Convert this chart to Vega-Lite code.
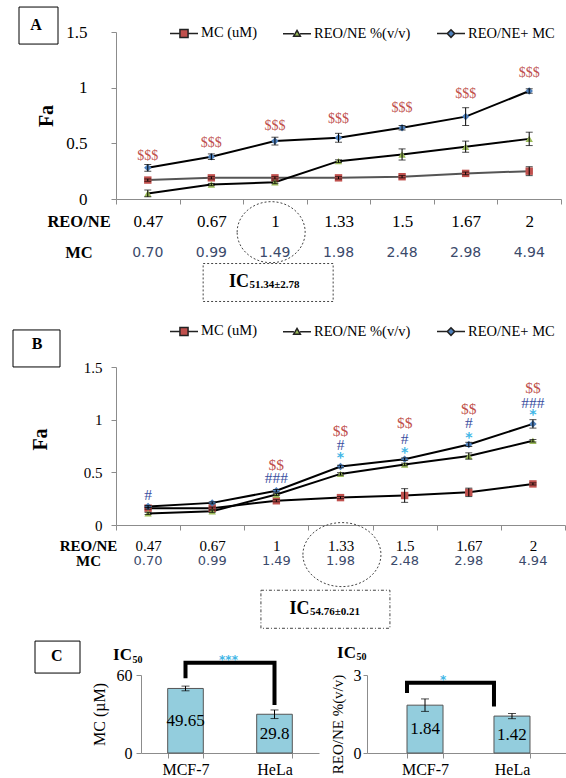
{
  "$schema": "https://vega.github.io/schema/vega-lite/v6.json",
  "background": "white",
  "padding": {"left": 11, "top": 5, "right": 0, "bottom": 0},
  "config": {
    "view": {"stroke": null},
    "font": "Liberation Serif",
    "axis": {"grid": false, "domainColor": "#8c8c8c", "tickColor": "#8c8c8c", "labelColor": "black", "labelFont": "Liberation Serif", "titleFont": "Liberation Serif", "titleColor": "black"}
  },
  "datasets": {
    "doses": [
      {"dose": "0.47", "mc": "0.70"}, {"dose": "0.67", "mc": "0.99"}, {"dose": "1", "mc": "1.49"},
      {"dose": "1.33", "mc": "1.98"}, {"dose": "1.5", "mc": "2.48"}, {"dose": "1.67", "mc": "2.98"}, {"dose": "2", "mc": "4.94"}
    ],
    "faA": [
      {"s": "MC (uM)", "d": "0.47", "fa": 0.17, "e": 0.01},
      {"s": "MC (uM)", "d": "0.67", "fa": 0.19, "e": 0.01},
      {"s": "MC (uM)", "d": "1", "fa": 0.19, "e": 0.01},
      {"s": "MC (uM)", "d": "1.33", "fa": 0.19, "e": 0.01},
      {"s": "MC (uM)", "d": "1.5", "fa": 0.2, "e": 0.01},
      {"s": "MC (uM)", "d": "1.67", "fa": 0.23, "e": 0.012},
      {"s": "MC (uM)", "d": "2", "fa": 0.25, "e": 0.04},
      {"s": "REO/NE %(v/v)", "d": "0.47", "fa": 0.05, "e": 0.03},
      {"s": "REO/NE %(v/v)", "d": "0.67", "fa": 0.13, "e": 0.01},
      {"s": "REO/NE %(v/v)", "d": "1", "fa": 0.15, "e": 0.012},
      {"s": "REO/NE %(v/v)", "d": "1.33", "fa": 0.34, "e": 0.012},
      {"s": "REO/NE %(v/v)", "d": "1.5", "fa": 0.4, "e": 0.05},
      {"s": "REO/NE %(v/v)", "d": "1.67", "fa": 0.47, "e": 0.05},
      {"s": "REO/NE %(v/v)", "d": "2", "fa": 0.54, "e": 0.06},
      {"s": "REO/NE+ MC", "d": "0.47", "fa": 0.28, "e": 0.03},
      {"s": "REO/NE+ MC", "d": "0.67", "fa": 0.38, "e": 0.025},
      {"s": "REO/NE+ MC", "d": "1", "fa": 0.52, "e": 0.035},
      {"s": "REO/NE+ MC", "d": "1.33", "fa": 0.55, "e": 0.04},
      {"s": "REO/NE+ MC", "d": "1.5", "fa": 0.64, "e": 0.02},
      {"s": "REO/NE+ MC", "d": "1.67", "fa": 0.74, "e": 0.08},
      {"s": "REO/NE+ MC", "d": "2", "fa": 0.97, "e": 0.02}
    ],
    "faB": [
      {"s": "MC (uM)", "d": "0.47", "fa": 0.16, "e": 0.01},
      {"s": "MC (uM)", "d": "0.67", "fa": 0.16, "e": 0.01},
      {"s": "MC (uM)", "d": "1", "fa": 0.23, "e": 0.01},
      {"s": "MC (uM)", "d": "1.33", "fa": 0.26, "e": 0.01},
      {"s": "MC (uM)", "d": "1.5", "fa": 0.28, "e": 0.065},
      {"s": "MC (uM)", "d": "1.67", "fa": 0.31, "e": 0.04},
      {"s": "MC (uM)", "d": "2", "fa": 0.39, "e": 0.01},
      {"s": "REO/NE %(v/v)", "d": "0.47", "fa": 0.11, "e": 0.01},
      {"s": "REO/NE %(v/v)", "d": "0.67", "fa": 0.13, "e": 0.01},
      {"s": "REO/NE %(v/v)", "d": "1", "fa": 0.29, "e": 0.01},
      {"s": "REO/NE %(v/v)", "d": "1.33", "fa": 0.485, "e": 0.012},
      {"s": "REO/NE %(v/v)", "d": "1.5", "fa": 0.575, "e": 0.012},
      {"s": "REO/NE %(v/v)", "d": "1.67", "fa": 0.655, "e": 0.03},
      {"s": "REO/NE %(v/v)", "d": "2", "fa": 0.8, "e": 0.012},
      {"s": "REO/NE+ MC", "d": "0.47", "fa": 0.175, "e": 0.01},
      {"s": "REO/NE+ MC", "d": "0.67", "fa": 0.21, "e": 0.01},
      {"s": "REO/NE+ MC", "d": "1", "fa": 0.325, "e": 0.012},
      {"s": "REO/NE+ MC", "d": "1.33", "fa": 0.555, "e": 0.012},
      {"s": "REO/NE+ MC", "d": "1.5", "fa": 0.625, "e": 0.012},
      {"s": "REO/NE+ MC", "d": "1.67", "fa": 0.765, "e": 0.02},
      {"s": "REO/NE+ MC", "d": "2", "fa": 0.96, "e": 0.04}
    ],
    "sigA": [
      {"d": "0.47", "t": "$$$", "k": "$", "y": 0.39},
      {"d": "0.67", "t": "$$$", "k": "$", "y": 0.5},
      {"d": "1", "t": "$$$", "k": "$", "y": 0.66},
      {"d": "1.33", "t": "$$$", "k": "$", "y": 0.72},
      {"d": "1.5", "t": "$$$", "k": "$", "y": 0.82},
      {"d": "1.67", "t": "$$$", "k": "$", "y": 0.94},
      {"d": "2", "t": "$$$", "k": "$", "y": 1.13}
    ],
    "sigB": [
      {"d": "0.47", "t": "#", "k": "#", "y": 0.285},
      {"d": "1", "t": "$$", "k": "$", "y": 0.565},
      {"d": "1", "t": "###", "k": "#", "y": 0.447},
      {"d": "1.33", "t": "$$", "k": "$", "y": 0.888},
      {"d": "1.33", "t": "#", "k": "#", "y": 0.76},
      {"d": "1.33", "t": "*", "k": "*", "y": 0.666},
      {"d": "1.5", "t": "$$", "k": "$", "y": 0.97},
      {"d": "1.5", "t": "#", "k": "#", "y": 0.815},
      {"d": "1.5", "t": "*", "k": "*", "y": 0.715},
      {"d": "1.67", "t": "$$", "k": "$", "y": 1.1},
      {"d": "1.67", "t": "#", "k": "#", "y": 0.965},
      {"d": "1.67", "t": "*", "k": "*", "y": 0.858},
      {"d": "2", "t": "$$", "k": "$", "y": 1.3},
      {"d": "2", "t": "###", "k": "#", "y": 1.16},
      {"d": "2", "t": "*", "k": "*", "y": 1.07}
    ],
    "icMC": [
      {"cell": "MCF-7", "v": 49.65, "e": 1.8, "lab": "49.65"},
      {"cell": "HeLa", "v": 29.8, "e": 3.3, "lab": "29.8"}
    ],
    "icREO": [
      {"cell": "MCF-7", "v": 1.84, "e": 0.24, "lab": "1.84"},
      {"cell": "HeLa", "v": 1.42, "e": 0.1, "lab": "1.42"}
    ],
    "brMC": [
      {"cell": "MCF-7", "y": 57.5, "o": 1},
      {"cell": "MCF-7", "y": 69.4, "o": 2},
      {"cell": "HeLa", "y": 69.4, "o": 3},
      {"cell": "HeLa", "y": 37, "o": 4}
    ],
    "brREO": [
      {"cell": "MCF-7", "y": 2.31, "o": 1},
      {"cell": "MCF-7", "y": 2.7, "o": 2},
      {"cell": "HeLa", "y": 2.7, "o": 3},
      {"cell": "HeLa", "y": 1.79, "o": 4}
    ]
  },
  "resolve": {"scale": {"color": "independent", "fill": "independent", "shape": "independent"}},
  "spacing": 12,
  "vconcat": [
    {
      "width": 445,
      "height": 167,
      "layer": [
        {
          "data": {"name": "faA"},
          "mark": {"type": "line", "strokeWidth": 2},
          "encoding": {
            "x": {"field": "d", "type": "nominal", "scale": {"domain": ["0.47", "0.67", "1", "1.33", "1.5", "1.67", "2"], "paddingInner": 0, "paddingOuter": 0},
                  "axis": {"title": null, "tickBand": "extent", "labelAngle": 0, "labelFontSize": 17, "labelPadding": 9, "tickSize": 5}},
            "y": {"field": "fa", "type": "quantitative", "title": "Fa", "scale": {"domain": [0, 1.5], "nice": false, "zero": false},
                  "axis": {"values": [0, 0.5, 1, 1.5], "format": "~g", "titleFontSize": 20, "titleFontWeight": "bold", "titlePadding": 9, "labelFontSize": 17, "labelPadding": 24, "tickSize": 5}},
            "detail": {"field": "s"},
            "color": {"condition": {"test": "datum.s === 'MC (uM)'", "value": "#555555"}, "value": "black"},
            "strokeWidth": {"condition": {"test": "datum.s === 'MC (uM)'", "value": 1.2}, "value": 2}
          }
        },
        {
          "data": {"name": "faA"},
          "mark": {"type": "point", "filled": true, "opacity": 1, "size": 0},
          "encoding": {
            "x": {"field": "d", "type": "nominal"},
            "y": {"field": "fa", "type": "quantitative", "title": "Fa"},
            "color": {"field": "s", "type": "nominal",
              "scale": {"domain": ["MC (uM)", "REO/NE %(v/v)", "REO/NE+ MC"], "range": ["#c0504d", "#9bbb59", "#4f81bd"]},
              "legend": {"orient": "none", "legendX": 53, "legendY": -14, "direction": "horizontal", "title": null,
                "labelFont": "Liberation Serif", "labelFontSize": 14.5, "labelColor": "black", "symbolSize": 784,
                "columnPadding": 23, "labelOffset": 2, "padding": 0, "symbolStrokeColor": "#222222", "symbolStrokeWidth": 1.5, "symbolOpacity": 1}},
            "shape": {"field": "s", "type": "nominal", "legend": null,
              "scale": {"domain": ["MC (uM)", "REO/NE %(v/v)", "REO/NE+ MC"],
                        "range": ["M-1,0H-0.29M0.29,0H1M-0.29,-0.29H0.29V0.29H-0.29Z", "M-1,0H-0.22M0.22,0H1M0,-0.24L0.24,0.18L-0.24,0.18Z", "M-1,0H-0.27M0.27,0H1M0,-0.27L0.27,0L0,0.27L-0.27,0Z"]}}
          }
        },
        {
          "data": {"name": "faA"},
          "transform": [{"filter": "datum.s === 'MC (uM)'"}],
          "mark": {"type": "point", "filled": true, "opacity": 1, "size": 55, "shape": "square"},
          "encoding": {
            "x": {"field": "d", "type": "nominal"},
            "y": {"field": "fa", "type": "quantitative", "title": "Fa"},
            "color": {"field": "s", "type": "nominal"}
          }
        },
        {
          "data": {"name": "faA"},
          "transform": [{"filter": "datum.s === 'REO/NE %(v/v)'"}],
          "mark": {"type": "point", "filled": true, "opacity": 1, "size": 55, "shape": "triangle-up"},
          "encoding": {
            "x": {"field": "d", "type": "nominal"},
            "y": {"field": "fa", "type": "quantitative", "title": "Fa"},
            "color": {"field": "s", "type": "nominal"}
          }
        },
        {
          "data": {"name": "faA"},
          "transform": [{"filter": "datum.s === 'REO/NE+ MC'"}],
          "mark": {"type": "point", "filled": true, "opacity": 1, "size": 55, "shape": "diamond"},
          "encoding": {
            "x": {"field": "d", "type": "nominal"},
            "y": {"field": "fa", "type": "quantitative", "title": "Fa"},
            "color": {"field": "s", "type": "nominal"}
          }
        },
        {
          "data": {"name": "faA"},
          "mark": {"type": "errorbar", "ticks": true, "size": 7, "thickness": 1, "color": "black"},
          "encoding": {
            "x": {"field": "d", "type": "nominal"},
            "y": {"field": "fa", "type": "quantitative", "title": "Fa"},
            "yError": {"field": "e"},
            "detail": {"field": "s"}
          }
        },
        {
          "data": {"name": "sigA"},
          "mark": {"type": "text", "font": "Liberation Serif", "fontSize": 14, "baseline": "middle"},
          "encoding": {
            "x": {"field": "d", "type": "nominal"},
            "y": {"field": "y", "type": "quantitative", "title": "Fa"},
            "text": {"field": "t"},
            "fill": {"field": "k", "type": "nominal", "scale": {"domain": ["$", "#", "*"], "range": ["#c0504d", "#3a4ea0", "#41b6e6"]}, "legend": null}
          }
        },
        {
          "data": {"name": "doses"},
          "mark": {"type": "text", "font": "DejaVu Sans", "fontSize": 14, "baseline": "middle", "fill": "#3b4a6b"},
          "encoding": {
            "x": {"field": "dose", "type": "nominal"},
            "y": {"datum": -0.482},
            "text": {"field": "mc"}
          }
        },
        {
          "data": {"values": [{"t": "REO/NE"}]},
          "mark": {"type": "text", "font": "Liberation Serif", "fontSize": 16.5, "fontWeight": "bold", "baseline": "middle", "align": "center", "dx": -37, "fill": "black"},
          "encoding": {"x": {"datum": "0.47", "bandPosition": 0}, "y": {"datum": -0.204}, "text": {"field": "t"}}
        },
        {
          "data": {"values": [{"t": "MC"}]},
          "mark": {"type": "text", "font": "Liberation Serif", "fontSize": 16.5, "fontWeight": "bold", "baseline": "middle", "align": "center", "dx": -37, "fill": "black"},
          "encoding": {"x": {"datum": "0.47", "bandPosition": 0}, "y": {"datum": -0.482}, "text": {"field": "t"}}
        },
        {
          "data": {"values": [{"dose": "1"}]},
          "mark": {"type": "point", "filled": false, "color": "#444444", "strokeWidth": 1, "strokeDash": [2, 2], "opacity": 1, "size": 3721,
                   "shape": "M-1.115,0C-1.115,-0.5523,-0.6158,-1,0,-1C0.6158,-1,1.115,-0.5523,1.115,0C1.115,0.5523,0.6158,1,0,1C-0.6158,1,-1.115,0.5523,-1.115,0Z"},
          "encoding": {"x": {"field": "dose", "type": "nominal"}, "xOffset": {"value": 28}, "y": {"datum": -0.298}}
        },
        {
          "data": {"values": [{"dose": "1"}]},
          "mark": {"type": "point", "filled": false, "color": "#444444", "strokeWidth": 1, "strokeDash": [2, 2], "opacity": 1, "size": 16900,
                   "shape": "M-1,-0.292H1V0.292H-1Z"},
          "encoding": {"x": {"field": "dose", "type": "nominal"}, "xOffset": {"value": 25}, "y": {"datum": -0.75}}
        },
        {
          "data": {"values": [{"dose": "1", "t": "IC"}]},
          "mark": {"type": "text", "font": "Liberation Serif", "fontSize": 18, "fontWeight": "bold", "baseline": "middle", "align": "right", "dx": -26, "fill": "black"},
          "encoding": {"x": {"field": "dose", "type": "nominal"}, "y": {"datum": -0.747}, "text": {"field": "t"}}
        },
        {
          "data": {"values": [{"dose": "1", "t": "51.34±2.78"}]},
          "mark": {"type": "text", "font": "Liberation Serif", "fontSize": 11, "fontWeight": "bold", "baseline": "middle", "align": "left", "dx": -25.5, "fill": "black"},
          "encoding": {"x": {"field": "dose", "type": "nominal"}, "y": {"datum": -0.774}, "text": {"field": "t"}}
        },
        {
          "data": {"values": [{"t": "A"}]},
          "mark": {"type": "point", "filled": false, "color": "black", "strokeWidth": 1, "opacity": 1, "size": 1521, "shape": "M-1,-0.949H1V0.949H-1Z"},
          "encoding": {"x": {"datum": "0.47", "bandPosition": 0}, "xOffset": {"value": -77.5}, "y": {"datum": 1.558}}
        },
        {
          "data": {"values": [{"t": "A"}]},
          "mark": {"type": "text", "font": "Liberation Serif", "fontSize": 16, "fontWeight": "bold", "baseline": "middle", "align": "center", "dx": -80, "fill": "black"},
          "encoding": {"x": {"datum": "0.47", "bandPosition": 0}, "y": {"datum": 1.563}, "text": {"field": "t"}}
        }
      ]
    },
    {
      "spacing": 8,
      "resolve": {"scale": {"color": "independent", "fill": "independent", "shape": "independent"}},
      "vconcat": [
        {
          "width": 449,
          "height": 158,
          "layer": [
            {
              "data": {"name": "faB"},
              "mark": {"type": "line", "strokeWidth": 2, "color": "black"},
              "encoding": {
                "x": {"field": "d", "type": "nominal", "scale": {"domain": ["0.47", "0.67", "1", "1.33", "1.5", "1.67", "2"], "paddingInner": 0, "paddingOuter": 0},
                      "axis": {"title": null, "tickBand": "extent", "labelAngle": 0, "labelFontSize": 15, "labelPadding": 8, "tickSize": 5}},
                "y": {"field": "fa", "type": "quantitative", "title": "Fa", "scale": {"domain": [0, 1.5], "nice": false, "zero": false},
                      "axis": {"values": [0, 0.5, 1, 1.5], "format": "~g", "titleFontSize": 20, "titleFontWeight": "bold", "titlePadding": 33, "titleY": 72, "labelFontSize": 15, "labelPadding": 9, "tickSize": 5}},
                "detail": {"field": "s"}
              }
            },
            {
              "data": {"name": "faB"},
              "mark": {"type": "point", "filled": true, "opacity": 1, "size": 0},
              "encoding": {
                "x": {"field": "d", "type": "nominal"},
                "y": {"field": "fa", "type": "quantitative", "title": "Fa"},
                "color": {"field": "s", "type": "nominal",
                  "scale": {"domain": ["MC (uM)", "REO/NE %(v/v)", "REO/NE+ MC"], "range": ["#c0504d", "#9bbb59", "#4f81bd"]},
                  "legend": {"orient": "none", "legendX": 53, "legendY": -51, "direction": "horizontal", "title": null,
                    "labelFont": "Liberation Serif", "labelFontSize": 14.5, "labelColor": "black", "symbolSize": 784,
                    "columnPadding": 23, "labelOffset": 2, "padding": 0, "symbolStrokeColor": "#222222", "symbolStrokeWidth": 1.5, "symbolOpacity": 1}},
                "shape": {"field": "s", "type": "nominal", "legend": null,
                  "scale": {"domain": ["MC (uM)", "REO/NE %(v/v)", "REO/NE+ MC"],
                            "range": ["M-1,0H-0.29M0.29,0H1M-0.29,-0.29H0.29V0.29H-0.29Z", "M-1,0H-0.22M0.22,0H1M0,-0.24L0.24,0.18L-0.24,0.18Z", "M-1,0H-0.27M0.27,0H1M0,-0.27L0.27,0L0,0.27L-0.27,0Z"]}}
              }
            },
            {
              "data": {"name": "faB"},
              "transform": [{"filter": "datum.s === 'MC (uM)'"}],
              "mark": {"type": "point", "filled": true, "opacity": 1, "size": 55, "shape": "square"},
              "encoding": {
                "x": {"field": "d", "type": "nominal"},
                "y": {"field": "fa", "type": "quantitative", "title": "Fa"},
                "color": {"field": "s", "type": "nominal"}
              }
            },
            {
              "data": {"name": "faB"},
              "transform": [{"filter": "datum.s === 'REO/NE %(v/v)'"}],
              "mark": {"type": "point", "filled": true, "opacity": 1, "size": 55, "shape": "triangle-up"},
              "encoding": {
                "x": {"field": "d", "type": "nominal"},
                "y": {"field": "fa", "type": "quantitative", "title": "Fa"},
                "color": {"field": "s", "type": "nominal"}
              }
            },
            {
              "data": {"name": "faB"},
              "transform": [{"filter": "datum.s === 'REO/NE+ MC'"}],
              "mark": {"type": "point", "filled": true, "opacity": 1, "size": 55, "shape": "diamond"},
              "encoding": {
                "x": {"field": "d", "type": "nominal"},
                "y": {"field": "fa", "type": "quantitative", "title": "Fa"},
                "color": {"field": "s", "type": "nominal"}
              }
            },
            {
              "data": {"name": "faB"},
              "mark": {"type": "errorbar", "ticks": true, "size": 7, "thickness": 1, "color": "black"},
              "encoding": {
                "x": {"field": "d", "type": "nominal"},
                "y": {"field": "fa", "type": "quantitative", "title": "Fa"},
                "yError": {"field": "e"},
                "detail": {"field": "s"}
              }
            },
            {
              "data": {"name": "sigB"},
              "transform": [{"filter": "datum.k !== '*'"}],
              "mark": {"type": "text", "font": "Liberation Serif", "fontSize": 15.5, "baseline": "middle"},
              "encoding": {
                "x": {"field": "d", "type": "nominal"},
                "y": {"field": "y", "type": "quantitative", "title": "Fa"},
                "text": {"field": "t"},
                "fill": {"field": "k", "type": "nominal", "scale": {"domain": ["$", "#", "*"], "range": ["#c0504d", "#3a4ea0", "#41b6e6"]}, "legend": null}
              }
            },
            {
              "data": {"name": "sigB"},
              "transform": [{"filter": "datum.k === '*'"}],
              "mark": {"type": "text", "font": "DejaVu Sans", "fontSize": 14, "fontWeight": "bold", "baseline": "middle", "dy": 3, "fill": "#41b6e6"},
              "encoding": {
                "x": {"field": "d", "type": "nominal"},
                "y": {"field": "y", "type": "quantitative", "title": "Fa"},
                "text": {"field": "t"}
              }
            },
            {
              "data": {"name": "doses"},
              "mark": {"type": "text", "font": "DejaVu Sans", "fontSize": 13, "baseline": "middle", "fill": "#3b4a6b"},
              "encoding": {
                "x": {"field": "dose", "type": "nominal"},
                "y": {"datum": -0.343},
                "text": {"field": "mc"}
              }
            },
            {
              "data": {"values": [{"t": "REO/NE"}]},
              "mark": {"type": "text", "font": "Liberation Serif", "fontSize": 15, "fontWeight": "bold", "baseline": "middle", "align": "center", "dx": -27.5, "fill": "black"},
              "encoding": {"x": {"datum": "0.47", "bandPosition": 0}, "y": {"datum": -0.2}, "text": {"field": "t"}}
            },
            {
              "data": {"values": [{"t": "MC"}]},
              "mark": {"type": "text", "font": "Liberation Serif", "fontSize": 15, "fontWeight": "bold", "baseline": "middle", "align": "center", "dx": -27.5, "fill": "black"},
              "encoding": {"x": {"datum": "0.47", "bandPosition": 0}, "y": {"datum": -0.343}, "text": {"field": "t"}}
            },
            {
              "data": {"values": [{"dose": "1.33"}]},
              "mark": {"type": "point", "filled": false, "color": "#444444", "strokeWidth": 1, "strokeDash": [2, 2], "opacity": 1, "size": 4096,
                       "shape": "M-1.219,0C-1.219,-0.5523,-0.6733,-1,0,-1C0.6733,-1,1.219,-0.5523,1.219,0C1.219,0.5523,0.6733,1,0,1C-0.6733,1,-1.219,0.5523,-1.219,0Z"},
              "encoding": {"x": {"field": "dose", "type": "nominal"}, "xOffset": {"value": 33.5}, "y": {"datum": -0.281}}
            },
            {
              "data": {"values": [{"dose": "1.33"}]},
              "mark": {"type": "point", "filled": false, "color": "#444444", "strokeWidth": 1, "strokeDash": [3, 2, 1, 2], "opacity": 1, "size": 16641,
                       "shape": "M-1,-0.295H1V0.295H-1Z"},
              "encoding": {"x": {"field": "dose", "type": "nominal"}, "xOffset": {"value": 17}, "y": {"datum": -0.8}}
            },
            {
              "data": {"values": [{"dose": "1.33", "t": "IC"}]},
              "mark": {"type": "text", "font": "Liberation Serif", "fontSize": 18, "fontWeight": "bold", "baseline": "middle", "align": "right", "dx": -31, "fill": "black"},
              "encoding": {"x": {"field": "dose", "type": "nominal"}, "y": {"datum": -0.8}, "text": {"field": "t"}}
            },
            {
              "data": {"values": [{"dose": "1.33", "t": "54.76±0.21"}]},
              "mark": {"type": "text", "font": "Liberation Serif", "fontSize": 11, "fontWeight": "bold", "baseline": "middle", "align": "left", "dx": -30.5, "fill": "black"},
              "encoding": {"x": {"field": "dose", "type": "nominal"}, "y": {"datum": -0.828}, "text": {"field": "t"}}
            },
            {
              "data": {"values": [{"t": "B"}]},
              "mark": {"type": "point", "filled": false, "color": "black", "strokeWidth": 1, "opacity": 1, "size": 2209, "shape": "M-1,-0.787H1V0.787H-1Z"},
              "encoding": {"x": {"datum": "0.47", "bandPosition": 0}, "xOffset": {"value": -79.5}, "y": {"datum": 1.676}}
            },
            {
              "data": {"values": [{"t": "B"}]},
              "mark": {"type": "text", "font": "Liberation Serif", "fontSize": 16, "fontWeight": "bold", "baseline": "middle", "align": "center", "dx": -79, "fill": "black"},
              "encoding": {"x": {"datum": "0.47", "bandPosition": 0}, "y": {"datum": 1.718}, "text": {"field": "t"}}
            }
          ]
        },
        {
          "spacing": 11,
          "hconcat": [
            {
              "width": 203,
              "height": 78,
              "layer": [
                {
                  "data": {"name": "icMC"},
                  "mark": {"type": "bar", "fill": "#93cddd", "stroke": "#555555", "strokeWidth": 1},
                  "encoding": {
                    "x": {"field": "cell", "type": "nominal", "scale": {"domain": ["MCF-7", "HeLa"], "range": [25, 203], "paddingInner": 0.6, "paddingOuter": 0.3},
                          "axis": {"title": null, "tickBand": "extent", "labelAngle": 0, "labelFontSize": 16, "tickSize": 5, "labelPadding": 3}},
                    "y": {"field": "v", "type": "quantitative", "title": "MC (µM)", "scale": {"domain": [0, 60], "nice": false},
                          "axis": {"values": [0, 20, 40, 60], "offset": -25, "labelFontSize": 16, "titleFontSize": 16, "titleFontWeight": "normal", "tickSize": 5, "labelPadding": 4, "titlePadding": 9}}
                  }
                },
                {
                  "data": {"name": "icMC"},
                  "mark": {"type": "errorbar", "ticks": true, "size": 8, "thickness": 1, "color": "black"},
                  "encoding": {"x": {"field": "cell", "type": "nominal"}, "y": {"field": "v", "type": "quantitative", "title": "MC (µM)"}, "yError": {"field": "e"}}
                },
                {
                  "data": {"name": "icMC"},
                  "transform": [{"calculate": "datum.v / 2", "as": "mid"}],
                  "mark": {"type": "text", "font": "Liberation Serif", "fontSize": 17, "baseline": "middle", "fill": "black"},
                  "encoding": {"x": {"field": "cell", "type": "nominal"}, "y": {"field": "mid", "type": "quantitative", "title": "MC (µM)"}, "text": {"field": "lab"}}
                },
                {
                  "data": {"name": "brMC"},
                  "mark": {"type": "line", "color": "black", "strokeWidth": 4, "strokeJoin": "miter", "strokeCap": "butt"},
                  "encoding": {"x": {"field": "cell", "type": "nominal"}, "y": {"field": "y", "type": "quantitative", "title": "MC (µM)"}, "order": {"field": "o"}}
                },
                {
                  "data": {"values": [{"cell": "MCF-7", "t": "***"}]},
                  "mark": {"type": "text", "font": "DejaVu Sans", "fontSize": 12, "fontWeight": "bold", "baseline": "middle", "dx": 43, "dy": 3, "fill": "#41b6e6"},
                  "encoding": {"x": {"field": "cell", "type": "nominal"}, "y": {"datum": 74}, "text": {"field": "t"}}
                },
                {
                  "data": {"values": [{"cell": "MCF-7", "t": "IC"}]},
                  "mark": {"type": "text", "font": "Liberation Serif", "fontSize": 17, "fontWeight": "bold", "baseline": "middle", "align": "right", "dx": -35.7, "fill": "black"},
                  "encoding": {"x": {"field": "cell", "type": "nominal", "bandPosition": 0}, "y": {"datum": 75.3}, "text": {"field": "t"}}
                },
                {
                  "data": {"values": [{"cell": "MCF-7", "t": "50"}]},
                  "mark": {"type": "text", "font": "Liberation Serif", "fontSize": 10, "fontWeight": "bold", "baseline": "middle", "align": "left", "dx": -35.2, "fill": "black"},
                  "encoding": {"x": {"field": "cell", "type": "nominal", "bandPosition": 0}, "y": {"datum": 71.9}, "text": {"field": "t"}}
                },
                {
                  "data": {"values": [{"cell": "MCF-7", "t": "C"}]},
                  "mark": {"type": "point", "filled": false, "color": "black", "strokeWidth": 1, "opacity": 1, "size": 2025, "shape": "M-1,-0.711H1V0.711H-1Z"},
                  "encoding": {"x": {"field": "cell", "type": "nominal", "bandPosition": 0}, "xOffset": {"value": -110.2}, "y": {"datum": 73.8}}
                },
                {
                  "data": {"values": [{"cell": "MCF-7", "t": "C"}]},
                  "mark": {"type": "text", "font": "Liberation Serif", "fontSize": 16, "fontWeight": "bold", "baseline": "middle", "align": "center", "dx": -111, "fill": "black"},
                  "encoding": {"x": {"field": "cell", "type": "nominal", "bandPosition": 0}, "y": {"datum": 74.6}, "text": {"field": "t"}}
                }
              ]
            },
            {
              "width": 203,
              "height": 78,
              "layer": [
                {
                  "data": {"name": "icREO"},
                  "mark": {"type": "bar", "fill": "#93cddd", "stroke": "#555555", "strokeWidth": 1},
                  "encoding": {
                    "x": {"field": "cell", "type": "nominal", "scale": {"domain": ["MCF-7", "HeLa"], "paddingInner": 0.586, "paddingOuter": 0.46},
                          "axis": {"title": null, "tickBand": "extent", "labelAngle": 0, "labelFontSize": 16, "tickSize": 5, "labelPadding": 3}},
                    "y": {"field": "v", "type": "quantitative", "title": "REO/NE %(v/v)", "scale": {"domain": [0, 3], "nice": false},
                          "axis": {"values": [0, 1, 2, 3], "labelFontSize": 16, "titleFontSize": 15, "titleFontWeight": "normal", "tickSize": 4, "labelPadding": 2, "titlePadding": 8, "titleY": 49}}
                  }
                },
                {
                  "data": {"name": "icREO"},
                  "mark": {"type": "errorbar", "ticks": true, "size": 8, "thickness": 1, "color": "black"},
                  "encoding": {"x": {"field": "cell", "type": "nominal"}, "y": {"field": "v", "type": "quantitative", "title": "REO/NE %(v/v)"}, "yError": {"field": "e"}}
                },
                {
                  "data": {"name": "icREO"},
                  "transform": [{"calculate": "datum.v / 2", "as": "mid"}],
                  "mark": {"type": "text", "font": "Liberation Serif", "fontSize": 17, "baseline": "middle", "fill": "black"},
                  "encoding": {"x": {"field": "cell", "type": "nominal"}, "y": {"field": "mid", "type": "quantitative", "title": "REO/NE %(v/v)"}, "text": {"field": "lab"}}
                },
                {
                  "data": {"name": "brREO"},
                  "mark": {"type": "line", "color": "black", "strokeWidth": 4, "strokeJoin": "miter", "strokeCap": "butt"},
                  "encoding": {"x": {"field": "cell", "type": "nominal", "bandPosition": 0}, "y": {"field": "y", "type": "quantitative", "title": "REO/NE %(v/v)"}, "order": {"field": "o"}}
                },
                {
                  "data": {"values": [{"cell": "MCF-7", "t": "*"}]},
                  "mark": {"type": "text", "font": "DejaVu Sans", "fontSize": 12, "fontWeight": "bold", "baseline": "middle", "dy": 3, "fill": "#41b6e6"},
                  "encoding": {"x": {"field": "cell", "type": "nominal", "bandPosition": 1}, "y": {"datum": 2.94}, "text": {"field": "t"}}
                },
                {
                  "data": {"values": [{"cell": "MCF-7", "t": "IC"}]},
                  "mark": {"type": "text", "font": "Liberation Serif", "fontSize": 17, "fontWeight": "bold", "baseline": "middle", "align": "right", "dx": -51, "fill": "black"},
                  "encoding": {"x": {"field": "cell", "type": "nominal", "bandPosition": 0}, "y": {"datum": 3.86}, "text": {"field": "t"}}
                },
                {
                  "data": {"values": [{"cell": "MCF-7", "t": "50"}]},
                  "mark": {"type": "text", "font": "Liberation Serif", "fontSize": 10, "fontWeight": "bold", "baseline": "middle", "align": "left", "dx": -50.5, "fill": "black"},
                  "encoding": {"x": {"field": "cell", "type": "nominal", "bandPosition": 0}, "y": {"datum": 3.71}, "text": {"field": "t"}}
                }
              ]
            }
          ]
        }
      ]
    }
  ]
}
